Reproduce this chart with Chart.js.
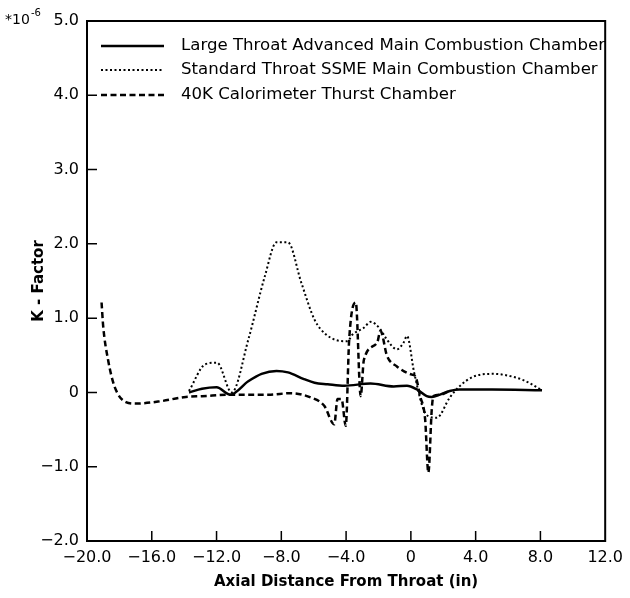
<!DOCTYPE html>
<html>
<head>
<meta charset="utf-8">
<script src="https://cdn.jsdelivr.net/npm/chart.js@4.4.1/dist/chart.umd.min.js"></script>
<style>
  html, body { margin: 0; padding: 0; background: #ffffff; }
  #wrap { width: 630px; height: 598px; }
</style>
</head>
<body>
<div id="wrap"><canvas id="c" width="630" height="598"></canvas></div>
<script>
// ---- Data ----
const seriesNames = [
  'Large Throat Advanced Main Combustion Chamber',
  'Standard Throat SSME Main Combustion Chamber',
  '40K Calorimeter Thurst Chamber'
];

const largeX = [-13.7,-12.9,-12.0,-11.15,-10.04,-9.22,-8.3,-7.59,-6.6,-5.95,-5.14,-4.1,-2.49,-1.06,-0.24,0.37,0.98,1.29,1.8,2.4,3.0,5.0,8.1];
const largeY = [0.0,0.05,0.07,-0.03,0.15,0.25,0.29,0.27,0.18,0.13,0.11,0.09,0.12,0.08,0.09,0.04,-0.05,-0.06,-0.03,0.02,0.04,0.04,0.03];

const ssmeX = [-13.7,-12.69,-11.97,-11.06,-10.04,-9.01,-8.3,-7.59,-6.77,-5.95,-5.24,-4.12,-3.92,-3.6,-2.9,-2.49,-1.88,-1.57,-0.86,-0.45,-0.24,0.2,0.78,1.08,1.6,2.4,3.02,3.84,5.06,6.49,7.3,8.08];
const ssmeY = [0.02,0.38,0.40,0.0,0.71,1.57,2.02,2.02,1.48,0.98,0.78,0.69,0.69,0.78,0.87,0.95,0.85,0.74,0.58,0.67,0.76,0.27,-0.23,-0.32,-0.34,-0.07,0.085,0.21,0.25,0.20,0.13,0.03];

const calX = [-19.1,-19.0,-18.7,-18.3,-17.6,-17.0,-15.5,-13.9,-12.9,-11.06,-8.8,-7.4,-6.16,-5.35,-4.73,-4.53,-4.28,-4.02,-3.81,-3.4,-3.1,-2.9,-2.08,-1.88,-1.47,-0.86,0.06,0.27,0.57,0.88,1.08,1.29,1.39,1.8,2.4];
const calY = [1.21,0.89,0.44,0.08,-0.13,-0.15,-0.12,-0.06,-0.05,-0.03,-0.03,-0.01,-0.07,-0.18,-0.43,-0.09,-0.09,-0.45,0.71,1.21,-0.05,0.44,0.67,0.83,0.49,0.35,0.24,0.22,-0.05,-0.36,-1.08,-0.23,-0.05,-0.03,0.02];

const xTicks = [-20, -16, -12, -8, -4, 0, 4, 8, 12];
const yTicks = [-2, -1, 0, 1, 2, 3, 4, 5];
const yUnitLabel = '*10';
const yUnitExp = '-6';
const xTitle = 'Axial Distance From Throat (in)';
const yTitle = 'K - Factor';

// ---- Helpers ----
const pts = (xs, ys) => xs.map((x, i) => ({ x: x, y: ys[i] }));
const fmt = v => v === 0 ? '0' : (v < 0 ? '\u2212' : '') + Math.abs(v).toFixed(1);
const FONT = "'DejaVu Sans', 'Liberation Sans', Arial, sans-serif";

// Plugin: frame, inward tick marks, unit label, legend
const decor = {
  id: 'decor',
  afterDraw(chart) {
    const { ctx, chartArea: a, scales } = chart;
    ctx.save();
    // frame
    ctx.strokeStyle = '#000';
    ctx.lineWidth = 2;
    ctx.strokeRect(a.left, a.top, a.right - a.left, a.bottom - a.top);
    // inward ticks
    ctx.lineWidth = 1.5;
    ctx.beginPath();
    yTicks.forEach(v => {
      if (v === yTicks[0] || v === yTicks[yTicks.length - 1]) return;
      const y = scales.y.getPixelForValue(v);
      ctx.moveTo(a.left, y); ctx.lineTo(a.left + 10, y);
    });
    xTicks.forEach(v => {
      if (v === xTicks[0] || v === xTicks[xTicks.length - 1]) return;
      const x = scales.x.getPixelForValue(v);
      ctx.moveTo(x, a.bottom); ctx.lineTo(x, a.bottom - 10);
    });
    ctx.stroke();
    // unit label
    ctx.fillStyle = '#000';
    ctx.textBaseline = 'middle';
    ctx.textAlign = 'left';
    ctx.font = '14px ' + FONT;
    ctx.fillText(yUnitLabel, 5, 20);
    ctx.font = '10px ' + FONT;
    ctx.fillText(yUnitExp, 31, 13);
    // legend
    const rows = [46, 70, 95];
    chart.data.datasets.forEach((ds, i) => {
      const y = rows[i];
      ctx.save();
      ctx.strokeStyle = ds.borderColor;
      ctx.lineWidth = ds.borderWidth;
      ctx.setLineDash(ds.borderDash || []);
      ctx.beginPath();
      ctx.moveTo(101, y); ctx.lineTo(164, y);
      ctx.stroke();
      ctx.restore();
      ctx.font = '16.6px ' + FONT;
      ctx.fillStyle = '#000';
      ctx.textBaseline = 'middle';
      ctx.fillText(ds.label, 181, y);
    });
    ctx.restore();
  }
};

new Chart(document.getElementById('c'), {
  type: 'line',
  data: {
    datasets: [
      { label: seriesNames[0], data: pts(largeX, largeY), borderColor: '#000', borderWidth: 2.5, borderDash: [] },
      { label: seriesNames[1], data: pts(ssmeX, ssmeY), borderColor: '#000', borderWidth: 2, borderDash: [2, 2.5] },
      { label: seriesNames[2], data: pts(calX, calY), borderColor: '#000', borderWidth: 2.5, borderDash: [6, 3.5] }
    ]
  },
  options: {
    responsive: false,
    animation: false,
    devicePixelRatio: 1,
    parsing: false,
    elements: {
      point: { radius: 0 },
      line: { cubicInterpolationMode: 'monotone', fill: false }
    },
    layout: { padding: { left: 0, right: 20, top: 21, bottom: 0 } },
    plugins: { legend: { display: false }, tooltip: { enabled: false } },
    scales: {
      x: {
        type: 'linear',
        min: xTicks[0], max: xTicks[xTicks.length - 1],
        afterBuildTicks: s => { s.ticks = xTicks.map(v => ({ value: v })); },
        afterFit: s => { s.height = 57; },
        grid: { display: false, drawTicks: false },
        border: { display: false },
        ticks: { color: '#000', padding: 7, maxRotation: 0, font: { family: FONT, size: 16 }, callback: v => fmt(v) },
        title: { display: true, text: xTitle, color: '#000', padding: { top: 0, bottom: 7 }, font: { family: FONT, size: 15, weight: 'bold' } }
      },
      y: {
        type: 'linear',
        min: yTicks[0], max: yTicks[yTicks.length - 1],
        afterBuildTicks: s => { s.ticks = yTicks.map(v => ({ value: v })); },
        afterFit: s => { s.width = 87; },
        grid: { display: false, drawTicks: false },
        border: { display: false },
        ticks: { color: '#000', padding: 8, font: { family: FONT, size: 16 }, callback: v => fmt(v) },
        title: { display: true, text: yTitle, color: '#000', padding: { top: 30, bottom: 0 }, font: { family: FONT, size: 15, weight: 'bold' } }
      }
    }
  },
  plugins: [decor]
});
</script>
</body>
</html>
